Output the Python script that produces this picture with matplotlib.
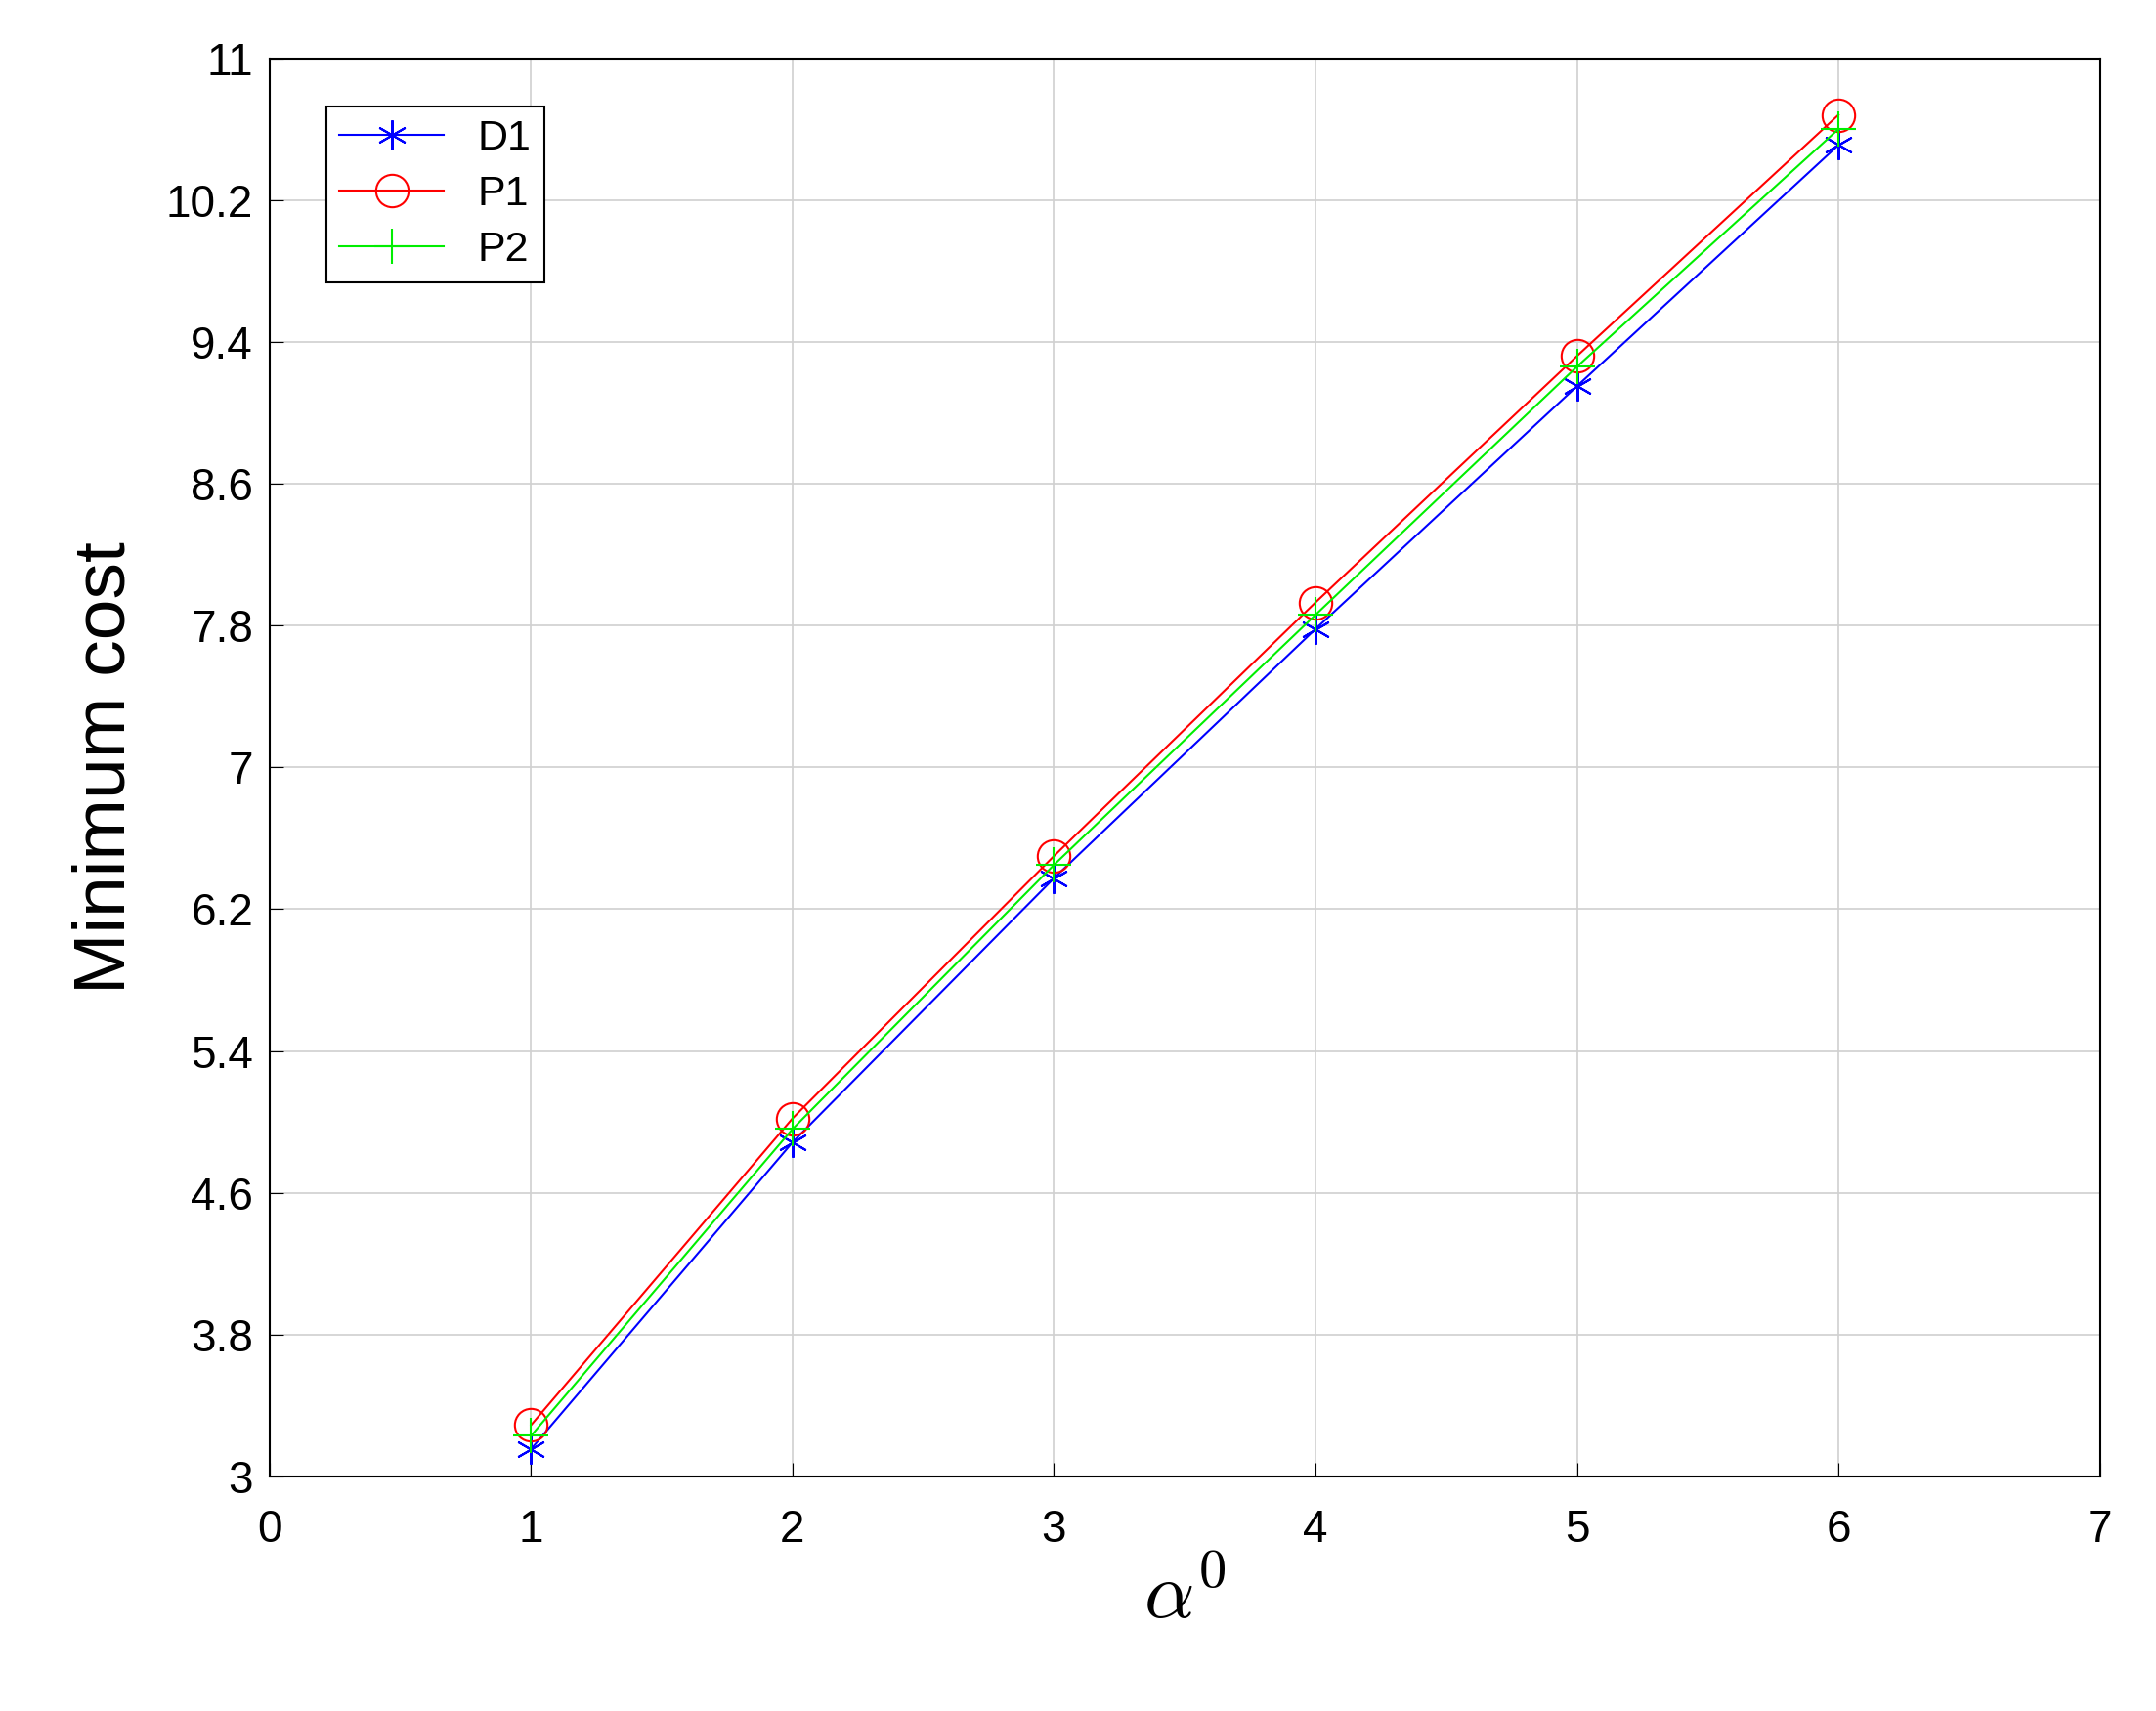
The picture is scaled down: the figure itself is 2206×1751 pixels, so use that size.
import matplotlib.pyplot as plt
import numpy as np

plt.rcParams['font.family'] = ['Liberation Sans', 'DejaVu Sans']
plt.rcParams['mathtext.fontset'] = 'cm'

x = [1, 2, 3, 4, 5, 6]
d1 = [3.155, 4.885, 6.375, 7.78, 9.15, 10.51]
p1 = [3.29, 5.02, 6.50, 7.93, 9.32, 10.68]
p2 = [3.23, 4.96, 6.45, 7.86, 9.26, 10.60]

fig = plt.figure(figsize=(22.06, 17.51), dpi=100)
ax = fig.add_axes([0.125, 0.137, 0.849, 0.829])

ax.plot(x, d1, color='#0000ff', marker=(6, 2, 0), markersize=22, markeredgewidth=1.5,
        lw=1.5, label='D1')
ax.plot(x, p1, color='#ff0000', marker='o', markersize=24, markerfacecolor='none',
        markeredgewidth=1.5, lw=1.5, label='P1')
ax.plot(x, p2, color='#00ee00', marker='+', markersize=26, markeredgewidth=1.5,
        lw=1.5, label='P2')

ax.set_xlim(0, 7)
ax.set_ylim(3, 11)
ax.set_xticks(range(0, 8))
yt = np.round(np.arange(3, 11.01, 0.8), 1)
ax.set_yticks(yt)
ax.set_yticklabels([('%g' % v) for v in yt])
ax.grid(True, color='#d0d0d0', lw=1.2)
ax.tick_params(labelsize=33, direction='in', length=10)
ax.tick_params(axis='x', pad=24)
ax.tick_params(axis='y', pad=12)
for s in ax.spines.values():
    s.set_linewidth(1.5)

ax.set_ylabel('Minimum cost', fontsize=54, labelpad=20)
ax.set_xlabel(r'$\alpha^0$', fontsize=58, labelpad=6)

leg = ax.legend(loc='upper left', fontsize=31, fancybox=False, edgecolor='black',
                framealpha=1, borderaxespad=0.0, handlelength=2.5, borderpad=0.3,
                labelspacing=0.4, bbox_to_anchor=(0.031, 0.966))
leg.get_frame().set_linewidth(1.5)

fig.savefig('out.png', dpi=100)
